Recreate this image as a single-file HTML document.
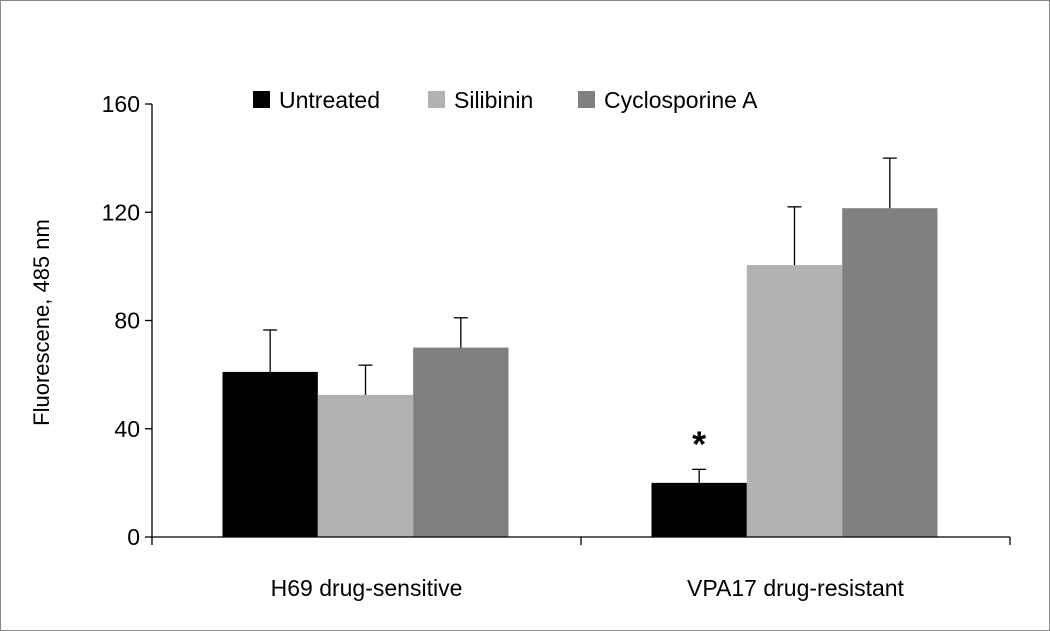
<!DOCTYPE html>
<html><head><meta charset="utf-8"><style>
html,body{margin:0;padding:0;background:#fff}
svg{display:block;font-family:"Liberation Sans",Arial,sans-serif}
</style></head><body>
<svg id="chart" width="1050" height="631">
<rect x="0.5" y="0.5" width="1049" height="630" fill="#fff" stroke="#888"/>
<g id="plot"></g>
</svg>
<script>
const categories = ["H69 drug-sensitive", "VPA17 drug-resistant"];
const seriesNames = ["Untreated", "Silibinin", "Cyclosporine A"];
const untreated = [61, 20];
const silibinin = [52.5, 100.5];
const cyclosporine = [70, 121.5];
const untreatedErr = [15.5, 5];
const silibininErr = [11, 21.5];
const cyclosporineErr = [11, 18.5];
const yTicks = [0, 40, 80, 120, 160];

const NS = "http://www.w3.org/2000/svg";
const g = document.getElementById("plot");
const x0 = 152, x1 = 1010, yTop = 104, yBot = 537, yMax = 160;
const y = v => yBot - (v / yMax) * (yBot - yTop);
const catW = (x1 - x0) / categories.length;
const barW = catW * 2 / 9;
const colors = ["#000000", "#b2b2b2", "#808080"];
const vals = [untreated, silibinin, cyclosporine];
const errs = [untreatedErr, silibininErr, cyclosporineErr];
function el(tag, attrs) { const e = document.createElementNS(NS, tag); for (const k in attrs) e.setAttribute(k, attrs[k]); g.appendChild(e); return e; }

let ax = el("line", {x1: x0, y1: yTop, x2: x0, y2: yBot, stroke: "#000", "stroke-width": 1.3});


yTicks.forEach(t => {
  const tk = el("line", {x1: x0 - 7, y1: y(t), x2: x0, y2: y(t), stroke: "#000", "stroke-width": 1.3});
  
  
  const tx = el("text", {x: x0 - 12, y: y(t) + 8, "text-anchor": "end", "font-size": 23, fill: "#000"});
  tx.textContent = t;
  
  
});
const yt = el("text", {x: 0, y: 0, "text-anchor": "middle", "font-size": 22, transform: `translate(49,${(yTop + yBot) / 2 + 2}) rotate(-90)`});
yt.textContent = "Fluorescene, 485 nm";



categories.forEach((c, i) => {
  const start = x0 + i * catW + (catW - 3 * barW) / 2 - 1;
  vals.forEach((s, j) => {
    const bx = start + j * barW;
    const r = el("rect", {x: bx, y: y(s[i]), width: barW, height: yBot - y(s[i]), fill: colors[j]});
    
    
    const cx = bx + barW / 2;
    const top = y(s[i] + errs[j][i]);
    const e1 = el("line", {x1: cx, y1: y(s[i]), x2: cx, y2: top, stroke: "#000", "stroke-width": 1.3});
    
    
    const e2 = el("line", {x1: cx - 7, y1: top, x2: cx + 7, y2: top, stroke: "#000", "stroke-width": 1.3});
    
    
  });
  const lbl = el("text", {x: x0 + (i + 0.5) * catW, y: 596, "text-anchor": "middle", "font-size": 23});
  lbl.textContent = c;
  
  
});
const xa = el("line", {x1: x0, y1: yBot, x2: x1, y2: yBot, stroke: "#000", "stroke-width": 1.3});


for (let i = 0; i <= categories.length; i++) {
  const t = el("line", {x1: x0 + i * catW, y1: yBot, x2: x0 + i * catW, y2: yBot + 8, stroke: "#000", "stroke-width": 1.3});
  
  
}
const st = el("text", {x: x0 + catW + (catW - 3 * barW) / 2 + barW / 2 - 1, y: y(untreated[1] + untreatedErr[1]) - 13, "text-anchor": "middle", "font-size": 36, "font-weight": "bold"});
st.textContent = "*";



const legX = [253, 428, 578];
seriesNames.forEach((n, j) => {
  const r = el("rect", {x: legX[j], y: 91, width: 17, height: 17, fill: colors[j]});
  
  
  const t = el("text", {x: legX[j] + 26, y: 108, "font-size": 23});
  t.textContent = n;
  
  
});
</script>
</body></html>
